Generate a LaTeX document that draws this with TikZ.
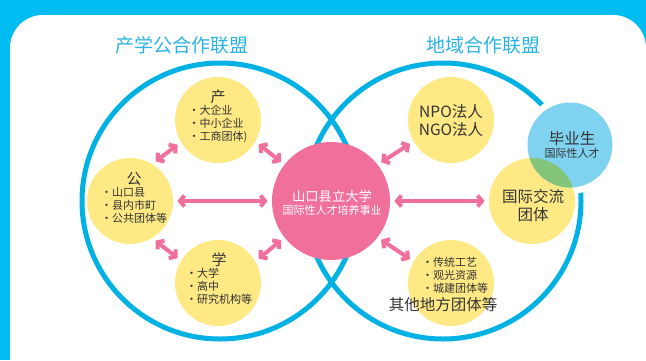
\documentclass[tikz,border=0pt]{standalone}
\usepackage{fontspec}
\setmainfont{Noto Sans CJK SC}
\usetikzlibrary{arrows.meta}

\definecolor{frame}{HTML}{00BCF0}
\definecolor{cyanring}{HTML}{00B1E4}
\definecolor{ttl}{HTML}{2CB3E5}
\definecolor{yel}{HTML}{FEE985}
\definecolor{rose}{HTML}{F0709B}
\definecolor{sky}{HTML}{7FD3F1}
\definecolor{leaf}{HTML}{85C47B}
\definecolor{ink}{HTML}{333333}

\newcommand{\ftitle}{\fontsize{19}{22}\selectfont}
\newcommand{\fhead}{\fontsize{15}{16}\selectfont}
\newcommand{\fitem}{\fontsize{11}{12.6}\selectfont}
\newcommand{\fbig}{\fontsize{15.5}{18}\selectfont}
\newcommand{\fmid}{\fontsize{13.3}{16}\selectfont}

\begin{document}
\begin{tikzpicture}[x=1pt,y=-1pt,thick]
	\tikzstyle{ball}=[shape=circle,fill=yel,inner sep=0pt,minimum size=86pt]
	\tikzstyle{txt}=[text=ink,align=center,inner sep=0pt]
	\tikzstyle{bigring}=[draw=cyanring,line width=5pt]
	\tikzstyle{link}=[{Straight Barb[length=4.5pt,width=11pt]}-{Straight Barb[length=4.5pt,width=11pt]},line width=4pt,draw=rose,shorten <=4pt,shorten >=4pt]
	
	\clip (0,0) rectangle (646,360);
	\fill[frame] (0,0) rectangle (646,360);
	\fill[white,rounded corners=33pt] (10,15) rectangle (646,400);
	
	\node[text=ttl,font=\ftitle] (tl) at (182,45) {产学公合作联盟};
	\node[text=ttl,font=\ftitle] (tr) at (483,45) {地域合作联盟};
	
	% two alliances
	\draw[bigring] (220,201) circle[radius=138];
	\draw[bigring] (443,201) circle[radius=138];
	\coordinate (g) at (570,145);
	\fill[white] (g) circle[radius=49];
	
	\node[ball]          (chan)    at (218,120) {};
	\node[ball]          (gong)    at (130,201) {};
	\node[ball]          (xue)     at (218,283) {};
	\node[ball]          (npo)     at (451,120) {};
	\node[ball]          (jiaoliu) at (532,201) {};
	\node[ball]          (difang)  at (451,283) {};
	\node[ball,fill=rose,minimum size=118pt] (daxue) at (331,201) {};
	\node[ball,fill=sky,minimum size=85pt]   (grad)  at (g) {};
	\begin{scope}
		\clip (jiaoliu.center) circle[radius=43];
		\fill[leaf] (g) circle[radius=42.5];
	\end{scope}
	
	\node[txt] (chanT) at (218,117) {{\fhead 产}\\[1pt]\fitem\begin{tabular}{@{}l@{}}・大企业\\・中小企业\\・工商团体)\end{tabular}};
	\node[txt] (gongT) at (134,199) {{\fhead 公}\\[1pt]\fitem\begin{tabular}{@{}l@{}}・山口县\\・县内市町\\・公共团体等\end{tabular}};
	\node[txt] (xueT)  at (219,280) {{\fhead 学}\\[1pt]\fitem\begin{tabular}{@{}l@{}}・大学\\・高中\\・研究机构等\end{tabular}};
	\node[txt,font=\fbig] (npoT) at (451,121) {NPO法人\\NGO法人};
	\node[txt,font=\fbig] (jiaoliuT) at (533,206) {国际交流\\团体};
	\node[txt] (difangT) at (455,277) {\fitem\begin{tabular}{@{}l@{}}・传统工艺\\・观光资源\\・城建团体等\end{tabular}};
	\node[txt,font=\fbig] (difangN) at (443,305) {其他地方团体等};
	\node[txt,text=white] (daxueT) at (332,203) {{\fmid 山口县立大学}\\[1pt]{\fitem 国际性人才培养事业}};
	\node[txt] (gradT) at (572,145) {{\fbig 毕业生}\\[1pt]{\fitem 国际性人才}};
	
	\draw[link] (gong.59)  -- (chan.211);
	\draw[link] (chan.-30) -- (daxue.142);
	\draw[link] (gong.0)   -- (daxue.180);
	\draw[link] (gong.-59) -- (xue.149);
	\draw[link] (xue.30)   -- (daxue.218);
	\draw[link] (daxue.38) -- (npo.210);
	\draw[link] (daxue.0)  -- (jiaoliu.180);
	\draw[link] (daxue.-38) -- (difang.150);
\end{tikzpicture}
\end{document}
